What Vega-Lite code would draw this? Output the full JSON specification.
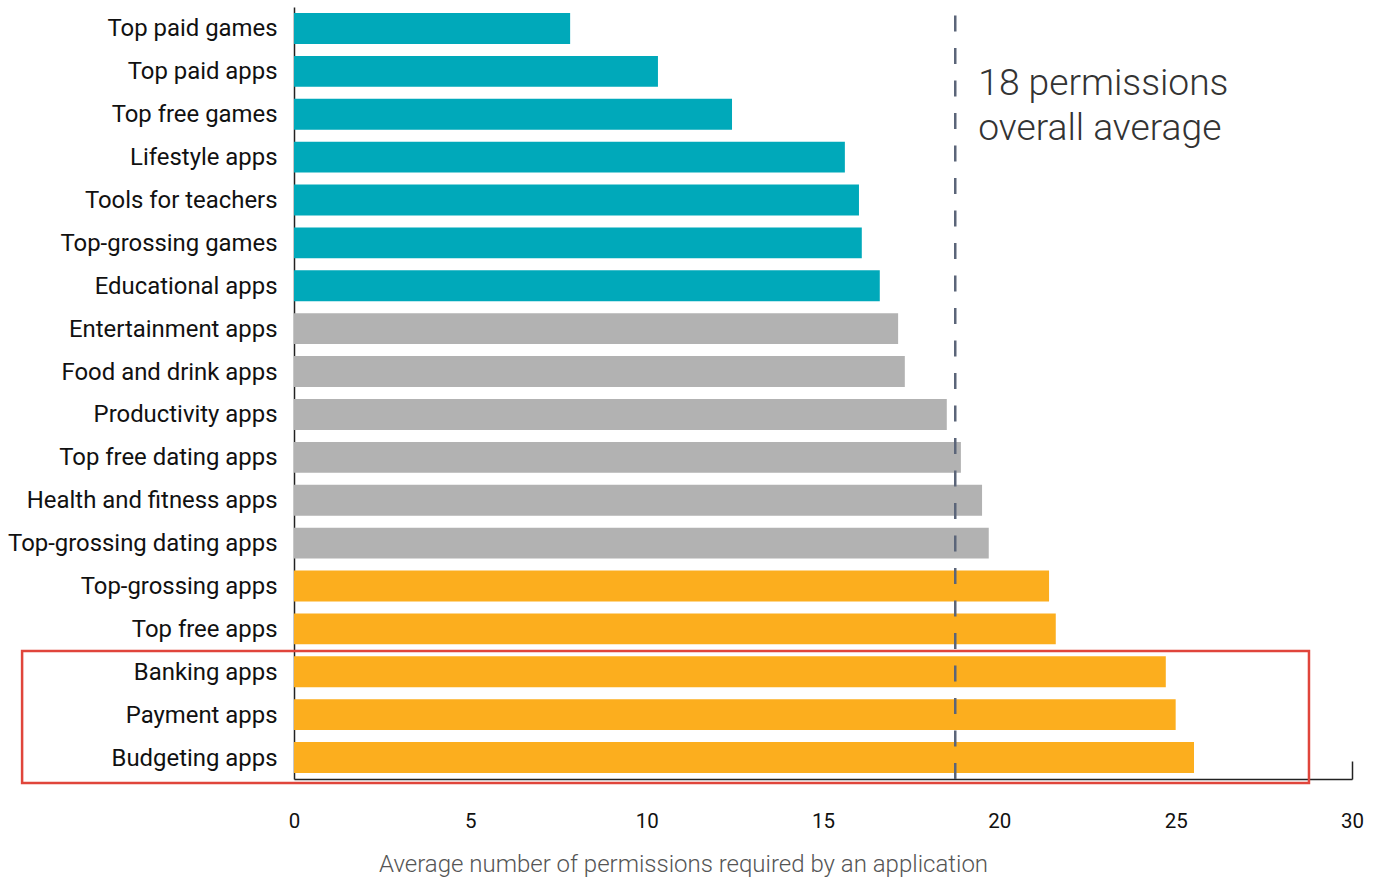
{
  "$schema": "https://vega.github.io/schema/vega-lite/v6.json",
  "width": 1058,
  "height": 772,
  "autosize": {"type": "none"},
  "padding": {"left": 294, "top": 7, "right": 31, "bottom": 98},
  "background": "white",
  "config": {"view": {"stroke": null}, "font": "Roboto"},
  "datasets": {
    "bars": [
      {"category": "Top paid games", "value": 7.83, "group": "low"},
      {"category": "Top paid apps", "value": 10.32, "group": "low"},
      {"category": "Top free games", "value": 12.42, "group": "low"},
      {"category": "Lifestyle apps", "value": 15.62, "group": "low"},
      {"category": "Tools for teachers", "value": 16.02, "group": "low"},
      {"category": "Top-grossing games", "value": 16.1, "group": "low"},
      {"category": "Educational apps", "value": 16.61, "group": "low"},
      {"category": "Entertainment apps", "value": 17.13, "group": "mid"},
      {"category": "Food and drink apps", "value": 17.32, "group": "mid"},
      {"category": "Productivity apps", "value": 18.51, "group": "mid"},
      {"category": "Top free dating apps", "value": 18.91, "group": "mid"},
      {"category": "Health and fitness apps", "value": 19.51, "group": "mid"},
      {"category": "Top-grossing dating apps", "value": 19.7, "group": "mid"},
      {"category": "Top-grossing apps", "value": 21.41, "group": "high"},
      {"category": "Top free apps", "value": 21.6, "group": "high"},
      {"category": "Banking apps", "value": 24.72, "group": "high"},
      {"category": "Payment apps", "value": 25.0, "group": "high"},
      {"category": "Budgeting apps", "value": 25.52, "group": "high"}
    ],
    "average": [
      {"avg": 18.75, "label": ["18 permissions", "overall average"], "row": "Top paid apps"}
    ],
    "highlight": [
      {"x1": -7.71, "x2": 28.78, "from": "Banking apps", "to": "Budgeting apps"}
    ]
  },
  "layer": [
    {
      "data": {"name": "bars"},
      "mark": {"type": "bar"},
      "encoding": {
        "y": {
          "field": "category",
          "type": "nominal",
          "sort": null,
          "scale": {"paddingInner": 0.28, "paddingOuter": 0.14},
          "axis": {
            "title": null,
            "ticks": false,
            "labelPadding": 17,
            "labelFontSize": 23.9,
            "labelColor": "#111111",
            "labelLimit": 400,
            "labelOffset": 1,
            "domainColor": "#222222",
            "domainWidth": 1.5
          }
        },
        "x": {
          "field": "value",
          "type": "quantitative",
          "scale": {"domain": [0, 30], "nice": false},
          "axis": {
            "values": [0, 5, 10, 15, 20, 25, 30],
            "grid": false,
            "title": "Average number of permissions required by an application",
            "titleFontSize": 24,
            "titleFontWeight": 300,
            "titleColor": "#555555",
            "titleX": 389,
            "titleY": 85,
            "titleBaseline": "middle",
            "titleAlign": "center",
            "labelFontSize": 20.5,
            "labelColor": "#111111",
            "labelFlush": false,
            "labelPadding": 50,
            "tickSize": -18,
            "tickWidth": 1.5,
            "tickColor": "#222222",
            "tickOpacity": {"condition": {"test": "datum.value === 30", "value": 1}, "value": 0},
            "domainColor": "#222222",
            "domainWidth": 1.5
          }
        },
        "color": {
          "field": "group",
          "type": "nominal",
          "scale": {"domain": ["low", "mid", "high"], "range": ["#00A9BA", "#B2B2B2", "#FCAE1E"]},
          "legend": null
        }
      }
    },
    {
      "data": {"name": "average"},
      "mark": {"type": "rule", "color": "#5B6579", "strokeWidth": 2.5, "strokeDash": [16, 16.5], "strokeDashOffset": 24},
      "encoding": {
        "x": {"field": "avg", "type": "quantitative"}
      }
    },
    {
      "data": {"name": "average"},
      "mark": {"type": "text", "align": "left", "baseline": "alphabetic", "dx": 23, "dy": 24, "fontSize": 37.2, "fontWeight": 300, "color": "#333333", "lineHeight": 45},
      "encoding": {
        "x": {"field": "avg", "type": "quantitative"},
        "y": {"field": "row", "type": "nominal", "sort": null},
        "text": {"field": "label"}
      }
    },
    {
      "data": {"name": "highlight"},
      "mark": {"type": "rect", "fillOpacity": 0, "stroke": "#E0453B", "strokeWidth": 2.5},
      "encoding": {
        "x": {"field": "x1", "type": "quantitative"},
        "x2": {"field": "x2"},
        "y": {"field": "from", "type": "nominal", "sort": null, "bandPosition": -0.17},
        "y2": {"field": "to", "bandPosition": 1.32}
      }
    }
  ]
}
